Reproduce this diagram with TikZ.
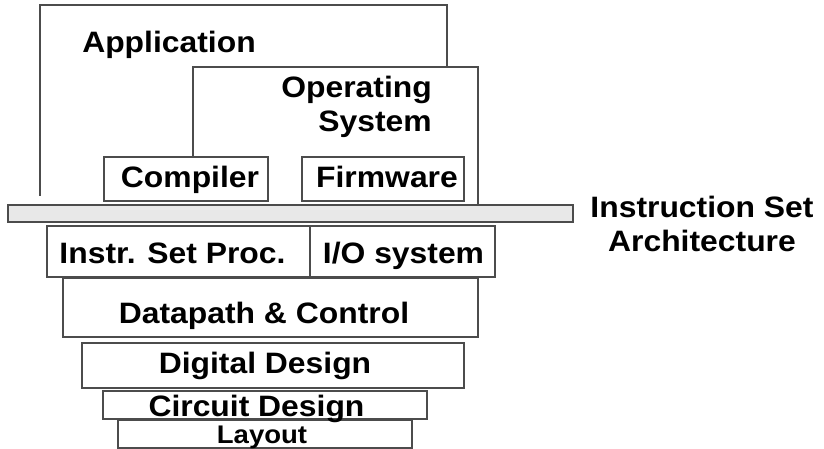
\documentclass[tikz,border=0pt]{standalone}
\usepackage{fontspec}
\setmainfont{Liberation Sans}[FakeStretch=1.08]
\usetikzlibrary{positioning}

\begin{document}
\begin{tikzpicture}[x=1pt, y=-1pt]
    \tikzstyle{layer} = [rectangle, draw=black!70, line width=1.3pt, inner sep=0pt, fill=white]
    \tikzstyle{txt} = [inner sep=0pt, anchor=base, font=\fontsize{29.5}{34}\selectfont\bfseries]
    \tikzstyle{edge} = [draw=black!70, line width=1.3pt]

    \useasboundingbox (0,0) rectangle (824,449);

    % software side
    \coordinate (appbl) at (40,196);
    \coordinate (apptr) at (447,5);
    \coordinate (appbr) at (447,67);
    \draw [edge] (appbl) |- (apptr) -- (appbr);
    \coordinate (osbl) at (193,157);
    \coordinate (ostr) at (478,67);
    \coordinate (osbr) at (478,205);
    \draw [edge] (osbl) |- (ostr) -- (osbr);

    \node [layer, minimum width=164, minimum height=44] (comp) at (186,179) {};
    \node [layer, minimum width=162, minimum height=44] (firm) at (383,179) {};

    % instruction set bar
    \node [layer, fill=black!9, minimum width=565, minimum height=17] (isa) at (290.5,213.5) {};

    % hardware side
    \node [layer, minimum width=263, minimum height=51] (proc) at (178.5,251.5) {};
    \node [layer, minimum width=185, minimum height=51] (io) at (402.5,251.5) {};
    \node [layer, minimum width=415, minimum height=59] (dp) at (270.5,307.5) {};
    \node [layer, minimum width=382, minimum height=45] (dig) at (273,365.5) {};
    \node [layer, minimum width=324, minimum height=28] (circ) at (265,405) {};
    \node [layer, minimum width=294, minimum height=28] (lay) at (265,434) {};

    % texts
    \node [txt] (apptxt) at (169,53) {Application};
    \node [txt, anchor=base east, align=right] (ostxt) at (432,132) {Operating\\System};
    \node [txt] (comptxt) at (190,188) {Compiler};
    \node [txt] (firmtxt) at (387,188) {Firmware};
    \node [txt, align=center] (isatxt) at (702,251) {Instruction Set\\Architecture};
    \node [txt] (proctxt) at (172.5,263) {Instr. Set Proc.};
    \node [txt] (iotxt) at (403.5,263) {I/O system};
    \node [txt] (dptxt) at (264,323) {Datapath \& Control};
    \node [txt] (digtxt) at (265,373) {Digital Design};
    \node [txt] (circtxt) at (256.5,416) {Circuit Design};
    \node [txt, font=\fontsize{25.5}{30}\selectfont\bfseries] (laytxt) at (262,443) {Layout};

\end{tikzpicture}
\end{document}
